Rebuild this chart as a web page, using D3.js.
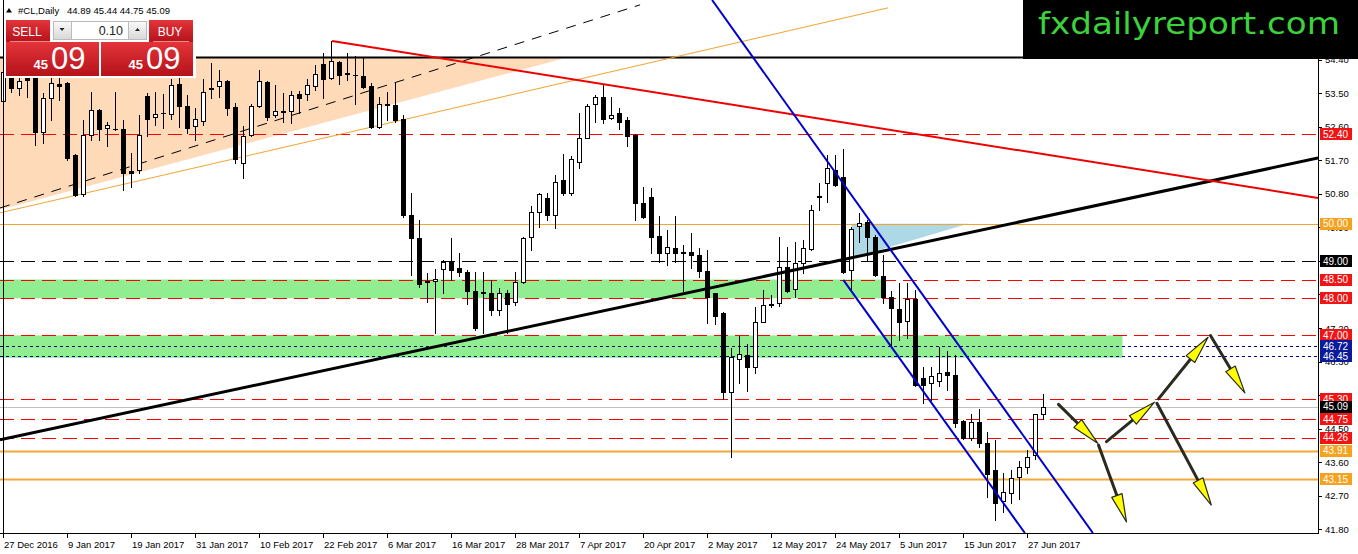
<!DOCTYPE html>
<html>
<head>
<script src="https://d3js.org/d3.v7.min.js"></script>
<style>
  body { margin: 0; background: #fff; font-family: 'Liberation Sans', Arial, sans-serif; }
</style>
</head>
<body>
<div id="container"></div>
<script>
// daily bars, 27 Dec 2016 .. 29 Jun 2017 (#CL)
const opens = [53.28,53.90,53.63,53.90,54.00,52.47,53.36,53.74,53.77,51.84,
  50.80,52.38,53.05,52.56,52.53,52.53,51.42,51.44,53.43,52.85,
  52.96,52.94,53.75,53.16,52.62,52.76,53.60,53.70,53.83,53.14,
  51.64,52.38,53.16,53.80,52.92,53.00,53.01,53.48,53.47,53.68,
  54.28,53.90,54.33,54.03,54.00,53.96,53.68,52.59,53.20,53.18,
  52.80,50.23,49.61,48.46,48.45,48.77,48.98,48.82,48.71,48.18,
  48.16,48.13,47.68,48.13,47.91,48.44,49.65,50.30,50.68,50.23,
  51.17,50.82,51.66,52.29,53.21,53.39,52.83,52.96,52.78,52.38,
  50.55,50.71,49.67,49.22,49.34,49.23,49.24,49.16,48.73,48.13,
  47.60,45.49,46.36,46.48,46.16,47.37,47.82,47.86,48.83,48.24,
  48.94,49.31,50.74,51.08,51.44,51.25,48.76,49.94,50.05,49.63,
  48.60,48.04,47.70,47.40,47.97,45.85,45.72,45.79,46.01,45.94,
  44.71,44.24,44.69,44.12,43.39,42.57,42.78,43.20,43.48,43.79,
  44.89];
const highs = [54.20,54.05,53.95,53.92,54.20,53.50,54.03,53.90,53.80,51.86,
  52.78,53.52,53.08,52.74,53.52,52.78,51.89,52.92,53.50,53.54,
  53.48,53.87,53.90,53.45,53.10,53.87,54.32,54.12,53.85,53.23,
  52.62,53.21,54.11,53.82,53.72,53.50,53.57,53.57,53.87,54.26,
  54.59,54.89,54.35,54.59,54.50,54.44,53.77,53.39,53.54,53.78,
  52.92,50.83,50.10,48.67,48.78,49.03,49.61,49.20,48.76,48.71,
  48.71,48.49,48.27,48.22,48.71,49.65,50.46,50.83,50.82,51.31,
  51.87,51.82,52.96,53.21,53.45,53.72,53.41,53.10,52.85,52.40,
  50.98,50.95,50.21,49.83,50.21,49.43,49.74,49.34,49.29,48.15,
  47.62,46.66,46.99,46.77,47.77,48.22,48.09,49.65,49.38,49.52,
  49.56,50.50,51.08,51.85,51.85,52.00,49.90,50.28,50.10,49.70,
  49.16,48.18,48.40,48.40,48.22,46.16,46.16,46.68,46.57,46.48,
  44.73,44.89,45.02,44.42,44.20,43.30,43.39,43.64,43.93,44.89,
  45.44];
const lows = [53.05,53.54,53.45,53.41,52.11,52.16,52.78,53.32,51.72,50.73,
  50.73,52.25,52.25,52.09,52.50,50.90,50.99,51.35,52.34,52.65,
  52.56,52.80,52.59,52.43,52.25,52.65,53.36,53.39,52.92,51.64,
  51.22,52.34,53.14,52.78,52.85,52.74,52.69,52.96,53.32,53.59,
  53.36,53.87,53.75,53.86,53.21,53.63,52.56,52.56,52.77,52.74,
  50.19,48.62,48.31,47.91,47.06,48.13,48.49,48.60,47.85,47.15,
  47.06,47.55,47.55,47.06,47.82,48.40,49.29,49.92,50.10,49.88,
  50.77,50.77,51.49,52.29,52.74,52.71,52.80,52.53,52.09,50.10,
  50.15,49.20,48.98,48.89,48.98,48.20,48.80,48.58,47.34,47.31,
  45.29,43.75,45.72,45.52,46.00,47.37,47.77,47.79,48.17,48.02,
  48.67,49.30,50.37,50.57,51.00,48.67,48.18,49.52,49.03,48.60,
  47.86,46.75,46.88,46.92,45.64,45.20,45.27,45.65,45.54,44.54,
  44.21,44.20,44.02,42.67,42.05,42.27,42.51,42.60,43.30,43.68,
  44.75];
const closes = [54.08,53.63,53.84,53.85,52.47,53.36,53.77,53.70,51.75,50.77,
  52.38,53.05,52.53,52.64,52.55,51.37,51.37,52.38,52.82,52.94,
  52.97,53.72,53.16,52.56,52.80,53.54,53.64,53.84,53.10,51.73,
  52.36,53.16,53.84,52.85,53.02,53.01,53.44,53.36,53.71,54.02,
  53.87,54.36,53.99,54.02,53.99,53.66,52.59,53.20,53.18,52.77,
  50.22,49.61,48.38,48.44,48.51,48.97,48.76,48.69,48.18,47.19,
  48.15,47.68,48.13,47.85,48.44,49.61,50.32,50.79,50.23,51.11,
  50.82,51.73,52.29,53.16,53.39,52.80,52.92,52.74,52.34,50.56,
  50.17,49.63,49.20,49.37,49.20,49.20,49.16,48.74,48.04,47.53,
  45.47,46.41,46.49,46.16,47.35,47.82,47.84,48.83,48.20,48.95,
  49.34,50.37,50.72,51.49,51.04,48.71,49.85,50.01,49.63,48.62,
  48.03,47.73,47.37,47.97,45.67,45.67,45.90,45.98,45.95,44.66,
  44.24,44.69,44.11,43.28,42.50,42.81,43.17,43.48,43.73,44.89,
  45.09];

// time axis: one label every 8 bars
const dateLabels = ['27 Dec 2016','9 Jan 2017','19 Jan 2017','31 Jan 2017','10 Feb 2017',
  '22 Feb 2017','6 Mar 2017','16 Mar 2017','28 Mar 2017','7 Apr 2017','20 Apr 2017',
  '2 May 2017','12 May 2017','24 May 2017','5 Jun 2017','15 Jun 2017','27 Jun 2017'];
const dateStep = 8;
const priceTicks = [54.40,53.50,52.60,51.70,50.80,49.90,49.00,48.10,47.20,46.30,45.40,44.50,43.60,42.70,41.80];

// horizontal levels
const redLevels = [52.40,48.50,48.00,47.00,45.30,44.75,44.26];
const blackLevels = [49.00];
const blueLevels = [46.72,46.45];
const goldThin = [50.00];
const goldThick = [43.91,43.15];
const bidPrice = 45.09;
const topLevel = 54.47;

// zones [fromBar, toBar, lowPrice, highPrice]
const greenZones = [[-1, 110.1, 48.00, 48.50], [-1, 139.9, 46.40, 47.00]];
const peachTriangle = [[-0.41, 54.47], [70.7, 54.47], [-0.41, 50.37]];
const blueTriangle = [[106.05, 50.00], [120.6, 50.00], [106.05, 49.07]];

// trend lines [bar, price] -> [bar, price]
const blackTrend = [[-0.41, 44.20], [164.34, 51.76]];
const redTrend = [[41.1, 54.90], [164.34, 50.69]];
const dashTrend = [[-0.41, 50.42], [79.6, 55.87]];
const goldTrend = [[-0.41, 50.29], [110.6, 55.79]];
const channelUpper = [[88.6, 56.0], [136.2, 41.7]];
const channelLower = [[105.0, 48.49], [127.7, 41.7]];

// projection arrows [bar0, price0, bar1, price1]
const arrows = [
  [131.9, 45.15, 136.8, 44.11],
  [136.9, 44.06, 140.4, 42.00],
  [137.9, 44.15, 143.9, 45.21],
  [144.2, 45.18, 151.0, 42.45],
  [144.4, 45.30, 150.6, 46.95],
  [150.9, 47.00, 155.2, 45.46]
];

const width = 1358, height = 554;
const plotW = 1318, plotH = 533;

const x = d3.scaleLinear().domain([-0.41, 164.34]).range([0, plotW]);
const y = d3.scaleLinear().domain([41.70, 56.0]).range([plotH, 0]);

const svg = d3.select('#container').append('svg')
  .attr('width', width).attr('height', height)
  .style('display', 'block');

const defs = svg.append('defs');
defs.append('clipPath').attr('id', 'plot')
  .append('rect').attr('width', plotW).attr('height', plotH);
const rg = defs.append('linearGradient').attr('id', 'redGrad').attr('x1', 0).attr('y1', 0).attr('x2', 0).attr('y2', 1);
rg.append('stop').attr('offset', '0%').attr('stop-color', '#e3343a');
rg.append('stop').attr('offset', '100%').attr('stop-color', '#b5121a');
const gg = defs.append('linearGradient').attr('id', 'greyGrad').attr('x1', 0).attr('y1', 0).attr('x2', 0).attr('y2', 1);
gg.append('stop').attr('offset', '0%').attr('stop-color', '#fafafa');
gg.append('stop').attr('offset', '100%').attr('stop-color', '#d8d8d8');

svg.append('rect').attr('width', width).attr('height', height).attr('fill', '#fff');

const plot = svg.append('g').attr('clip-path', 'url(#plot)');
const line = d3.line().x(d => x(d[0])).y(d => y(d[1]));

// background objects
plot.append('path').attr('d', line(peachTriangle) + 'Z').attr('fill', '#ffdab9');
plot.selectAll('rect.zone').data(greenZones).join('rect')
  .attr('class', 'zone')
  .attr('x', d => x(d[0])).attr('width', d => x(d[1]) - x(d[0]))
  .attr('y', d => y(d[3])).attr('height', d => y(d[2]) - y(d[3]))
  .attr('fill', '#90ee90');
plot.append('path').attr('d', line(blueTriangle) + 'Z').attr('fill', '#add8e6');

function hLines(levels, color, w, dash) {
  plot.selectAll(null).data(levels).join('line')
    .attr('x1', 0).attr('x2', plotW)
    .attr('y1', d => Math.round(y(d)) + 0.5).attr('y2', d => Math.round(y(d)) + 0.5)
    .attr('stroke', color).attr('stroke-width', w)
    .attr('stroke-dasharray', dash);
}
hLines(redLevels, '#ff0000', 1, '14,7');
hLines(blackLevels, '#000', 1, '14,7');
hLines(blueLevels, '#00008b', 1, '3,3');
hLines(goldThin, '#f0a530', 1, null);
hLines(goldThick, '#eeaa3a', 2, null);
hLines([bidPrice], '#c0c0c0', 1, null);
hLines([topLevel], '#000', 2, null);

plot.append('path').attr('d', line(goldTrend)).attr('stroke', '#f0a530').attr('stroke-width', 1).attr('fill', 'none');
plot.append('path').attr('d', line(dashTrend)).attr('stroke', '#000').attr('stroke-width', 1)
  .attr('stroke-dasharray', '10,8').attr('fill', 'none');

// candles
const bars = d3.range(opens.length);
const cx = i => Math.round(x(i));
plot.selectAll('line.wick').data(bars).join('line')
  .attr('class', 'wick')
  .attr('x1', i => cx(i) + 0.5).attr('x2', i => cx(i) + 0.5)
  .attr('y1', i => Math.round(y(highs[i]))).attr('y2', i => Math.round(y(lows[i])) + 1)
  .attr('stroke', '#000').attr('stroke-width', 1);
plot.selectAll('rect.body').data(bars).join('rect')
  .attr('class', 'body')
  .each(function (i) {
    const top = Math.round(y(Math.max(opens[i], closes[i])));
    const bot = Math.round(y(Math.min(opens[i], closes[i])));
    const bull = closes[i] > opens[i];
    const el = d3.select(this);
    if (bot - top < 2) {
      el.attr('x', cx(i) - 2).attr('y', top).attr('width', 5).attr('height', Math.max(1, bot - top + 1))
        .attr('fill', '#000');
    } else if (bull) {
      el.attr('x', cx(i) - 1.5).attr('y', top + 0.5).attr('width', 4).attr('height', bot - top)
        .attr('fill', '#fff').attr('stroke', '#000').attr('stroke-width', 1);
    } else {
      el.attr('x', cx(i) - 2).attr('y', top).attr('width', 5).attr('height', bot - top + 1)
        .attr('fill', '#000');
    }
  });

// foreground trend lines
plot.append('path').attr('d', line(blackTrend)).attr('stroke', '#000').attr('stroke-width', 3).attr('fill', 'none');
plot.append('path').attr('d', line(redTrend)).attr('stroke', '#ee0000').attr('stroke-width', 2).attr('fill', 'none');
plot.append('path').attr('d', line(channelUpper)).attr('stroke', '#0000cd').attr('stroke-width', 2).attr('fill', 'none');
plot.append('path').attr('d', line(channelLower)).attr('stroke', '#0000cd').attr('stroke-width', 2).attr('fill', 'none');

// arrows
arrows.forEach(a => {
  const x0 = x(a[0]), y0 = y(a[1]), x1 = x(a[2]), y1 = y(a[3]);
  const len = Math.hypot(x1 - x0, y1 - y0);
  const ux = (x1 - x0) / len, uy = (y1 - y0) / len;
  const hl = 28, hw = 5.5;
  const bx = x1 - ux * hl, by = y1 - uy * hl;
  plot.append('line').attr('x1', x0).attr('y1', y0).attr('x2', bx + ux * 4).attr('y2', by + uy * 4)
    .attr('stroke', '#2a2a1e').attr('stroke-width', 3).attr('stroke-linecap', 'round');
  plot.append('path')
    .attr('d', `M${x1},${y1}L${bx - uy * hw},${by + ux * hw}L${bx + uy * hw},${by - ux * hw}Z`)
    .attr('fill', '#ffff00').attr('stroke', '#2a2a1e').attr('stroke-width', 1.2).attr('stroke-linejoin', 'round');
});

// left border
svg.append('line').attr('x1', 3.5).attr('x2', 3.5).attr('y1', 0).attr('y2', plotH)
  .attr('stroke', '#000').attr('stroke-width', 1);

// right price axis
const axisFont = 9.5;
svg.append('line').attr('x1', plotW + 0.5).attr('x2', plotW + 0.5).attr('y1', 0).attr('y2', plotH + 1)
  .attr('stroke', '#000');
svg.selectAll('line.ptick').data(priceTicks).join('line')
  .attr('x1', plotW).attr('x2', plotW + 4)
  .attr('y1', d => Math.round(y(d)) + 0.5).attr('y2', d => Math.round(y(d)) + 0.5)
  .attr('stroke', '#000');
svg.selectAll('text.ptick').data(priceTicks).join('text')
  .attr('x', plotW + 7).attr('y', d => y(d) + 3.5)
  .attr('font-size', axisFont).attr('fill', '#000')
  .text(d => d.toFixed(2));

// bottom time axis
svg.append('line').attr('x1', 0).attr('x2', plotW + 1).attr('y1', plotH + 0.5).attr('y2', plotH + 0.5)
  .attr('stroke', '#000');
svg.selectAll('line.dtick').data(dateLabels).join('line')
  .attr('x1', (d, k) => cx(k * dateStep) + 0.5).attr('x2', (d, k) => cx(k * dateStep) + 0.5)
  .attr('y1', plotH).attr('y2', plotH + 5)
  .attr('stroke', '#000');
svg.selectAll('text.dtick').data(dateLabels).join('text')
  .attr('x', (d, k) => cx(k * dateStep) + 1).attr('y', plotH + 15)
  .attr('font-size', axisFont).attr('fill', '#000')
  .text(d => d);

// price labels on the axis
function priceTags(levels, color) {
  const g = svg.append('g');
  g.selectAll('rect').data(levels).join('rect')
    .attr('x', plotW + 2).attr('y', d => Math.round(y(d)) - 6)
    .attr('width', 32).attr('height', 12).attr('fill', color);
  g.selectAll('text').data(levels).join('text')
    .attr('x', plotW + 5).attr('y', d => y(d) + 3.8)
    .attr('font-size', axisFont + 0.5).attr('fill', '#fff')
    .text(d => d.toFixed(2));
}
priceTags(redLevels, '#f01414');
priceTags(blackLevels, '#000');
priceTags(blueLevels, '#0a1a9a');
priceTags(goldThin, '#f5a21e');
priceTags(goldThick, '#f5a21e');
priceTags([bidPrice], '#000');

// title
svg.append('path').attr('d', 'M6,12.5L9,8L12,12.5Z').attr('fill', '#000');
svg.append('text').attr('x', 18).attr('y', 14).attr('font-size', 9.5).attr('fill', '#000')
  .text('#CL,Daily');
svg.append('text').attr('x', 67).attr('y', 14).attr('font-size', 9.5).attr('fill', '#000')
  .text([opens[130], highs[130], lows[130], closes[130]].map(v => v.toFixed(2)).join(' '));

// one-click trading panel
const panel = svg.append('g');
panel.append('rect').attr('x', 4).attr('y', 18).attr('width', 192).attr('height', 60).attr('fill', '#fff');
panel.append('rect').attr('x', 6).attr('y', 20).attr('width', 44).attr('height', 22).attr('fill', 'url(#redGrad)');
panel.append('rect').attr('x', 149).attr('y', 20).attr('width', 44).attr('height', 22).attr('fill', 'url(#redGrad)');
panel.append('line').attr('x1', 10).attr('x2', 50).attr('y1', 41.5).attr('y2', 41.5).attr('stroke', '#f08a8a');
panel.append('line').attr('x1', 153).attr('x2', 189).attr('y1', 41.5).attr('y2', 41.5).attr('stroke', '#f08a8a');
panel.append('rect').attr('x', 6).attr('y', 42).attr('width', 93).attr('height', 34).attr('fill', 'url(#redGrad)');
panel.append('rect').attr('x', 101).attr('y', 42).attr('width', 92).attr('height', 34).attr('fill', 'url(#redGrad)');
panel.append('rect').attr('x', 53.5).attr('y', 21.5).attr('width', 18).attr('height', 18)
  .attr('fill', 'url(#greyGrad)').attr('stroke', '#bbb');
panel.append('rect').attr('x', 71.5).attr('y', 21.5).attr('width', 57).attr('height', 18)
  .attr('fill', '#fff').attr('stroke', '#bbb');
panel.append('rect').attr('x', 128.5).attr('y', 21.5).attr('width', 18).attr('height', 18)
  .attr('fill', 'url(#greyGrad)').attr('stroke', '#bbb');
panel.append('path').attr('d', 'M59.5,28L64.5,28L62,31Z').attr('fill', '#222');
panel.append('path').attr('d', 'M135,31L140,31L137.5,28Z').attr('fill', '#222');
panel.append('text').attr('x', 123).attr('y', 35).attr('text-anchor', 'end')
  .attr('font-size', 12.5).attr('fill', '#222').text('0.10');
panel.append('text').attr('x', 27).attr('y', 36).attr('text-anchor', 'middle')
  .attr('font-size', 12).attr('fill', '#fff').text('SELL');
panel.append('text').attr('x', 170).attr('y', 36).attr('text-anchor', 'middle')
  .attr('font-size', 12).attr('fill', '#fff').text('BUY');
const quote = closes[130].toFixed(2).split('.');
[[48, 51], [143, 146]].forEach(p => {
  panel.append('text').attr('x', p[0]).attr('y', 69).attr('text-anchor', 'end')
    .attr('font-size', 13).attr('font-weight', 'bold').attr('fill', '#fff').text(quote[0]);
  panel.append('text').attr('x', p[1]).attr('y', 69)
    .attr('font-size', 31).attr('fill', '#fff').text(quote[1]);
});

// watermark
svg.append('rect').attr('x', 1023).attr('y', 0).attr('width', 335).attr('height', 59).attr('fill', '#000');
svg.append('text').attr('x', 1038).attr('y', 34)
  .attr('font-family', "'DejaVu Sans', Verdana, sans-serif")
  .attr('font-size', 31).attr('fill', '#3cd23c')
  .attr('textLength', 302).attr('lengthAdjust', 'spacingAndGlyphs')
  .text('fxdailyreport.com');
</script>
</body>
</html>
